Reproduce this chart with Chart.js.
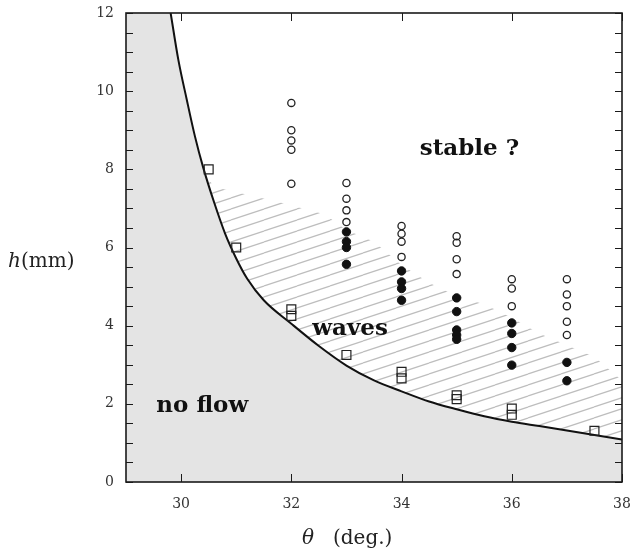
<!DOCTYPE html>
<html>
<head>
<meta charset="utf-8">
<script src="https://cdn.jsdelivr.net/npm/chart.js@4.4.1/dist/chart.umd.min.js"></script>
<style>
html, body { margin: 0; padding: 0; background: #fff; }
</style>
</head>
<body>
<canvas id="chart" width="631" height="552"></canvas>
<script>
// axis ticks
const xTicks = [30, 32, 34, 36, 38]
const yTickLabels = [0, 2, 4, 6, 8, 10, 12]

// threshold curve h(theta)
const curveTheta = [29.81, 29.95, 30.1, 30.25, 30.4, 30.6, 30.8, 31.0, 31.2, 31.5, 32.0, 32.5, 33.0, 33.5, 34.0, 34.5, 35.0, 35.5, 36.0, 36.5, 37.0, 37.5, 38.0]
const curveH = [12.0, 10.8, 9.8, 8.85, 8.05, 7.15, 6.35, 5.72, 5.2, 4.65, 4.05, 3.48, 2.98, 2.6, 2.32, 2.06, 1.86, 1.68, 1.54, 1.43, 1.32, 1.2, 1.09]

// upper edge of the hatched "waves" zone
const hatchTheta = [30.45, 30.6, 31.8, 32.6, 33.0, 33.5, 34.0, 34.5, 35.0, 35.5, 36.0, 36.5, 37.0, 37.5, 38.0]
const hatchH = [7.85, 7.55, 7.15, 6.85, 6.45, 6.15, 5.55, 5.1, 4.75, 4.55, 4.2, 3.8, 3.5, 3.2, 2.6]

// squares (onset)
const squareTheta = [30.5, 31, 32, 32, 33, 34, 34, 35, 35, 36, 36, 37.5]
const squareH = [8.0, 6.0, 4.42, 4.25, 3.25, 2.82, 2.65, 2.22, 2.12, 1.88, 1.72, 1.31]

// open circles
const openTheta = [32, 32, 32, 32, 32, 33, 33, 33, 33, 34, 34, 34, 34, 35, 35, 35, 35, 36, 36, 36, 37, 37, 37, 37, 37]
const openH = [9.7, 9.0, 8.74, 8.5, 7.63, 7.65, 7.25, 6.95, 6.65, 6.55, 6.35, 6.15, 5.76, 6.29, 6.12, 5.7, 5.32, 5.19, 4.95, 4.5, 5.19, 4.8, 4.5, 4.1, 3.76]

// filled circles
const fullTheta = [33, 33, 33, 33, 34, 34, 34, 34, 35, 35, 35, 35, 35, 36, 36, 36, 36, 37, 37]
const fullH = [6.4, 6.15, 6.0, 5.57, 5.4, 5.12, 4.95, 4.65, 4.71, 4.36, 3.89, 3.76, 3.65, 4.07, 3.8, 3.44, 2.99, 3.06, 2.59]

const notes = [
    {text: 'stable ?', x: 34.33, y: 8.36},
    {text: 'waves', x: 32.38, y: 3.76},
    {text: 'no flow', x: 29.55, y: 1.79},
]

const pts = (xs, ys) => xs.map((v, i) => ({x: v, y: ys[i]}))

// grey "no flow" zone: left edge then down along the curve
const noFlow = [{x: 29, y: 12}].concat(pts(curveTheta, curveH))

// hatched zone: top edge, right edge, back along the curve
const waveZone = pts(hatchTheta, hatchH)
for (let i = curveTheta.length - 1; i >= 0; i--) {
    if (curveTheta[i] >= hatchTheta[0]) waveZone.push({x: curveTheta[i], y: curveH[i]})
}

const canvas = document.getElementById('chart')
const ctx = canvas.getContext('2d')

// diagonal hatch tile
const tile = document.createElement('canvas')
tile.width = 33
tile.height = 11
const tctx = tile.getContext('2d')
tctx.strokeStyle = '#bdbdbd'
tctx.lineWidth = 1.2
for (let k = -1; k <= 1; k++) {
    tctx.beginPath()
    tctx.moveTo(0, 11 + k * 11)
    tctx.lineTo(33, k * 11)
    tctx.stroke()
}
const hatch = ctx.createPattern(tile, 'repeat')

const serif = '"DejaVu Serif", serif'

const framePlugin = {
    id: 'frame',
    afterDatasetsDraw(chart) {
        const {ctx, chartArea: a, scales: {x, y}} = chart
        ctx.save()
        ctx.strokeStyle = '#1a1a1a'
        ctx.lineWidth = 1
        ctx.beginPath()
        xTicks.forEach(v => {
            const px = Math.round(x.getPixelForValue(v)) + 0.5
            ctx.moveTo(px, a.bottom); ctx.lineTo(px, a.bottom - 8)
            ctx.moveTo(px, a.top); ctx.lineTo(px, a.top + 8)
        })
        y.ticks.forEach(t => {
            const py = Math.round(y.getPixelForValue(t.value)) + 0.5
            ctx.moveTo(a.left, py); ctx.lineTo(a.left + 7, py)
            ctx.moveTo(a.right, py); ctx.lineTo(a.right - 7, py)
        })
        ctx.stroke()
        ctx.lineWidth = 1.6
        ctx.strokeRect(a.left, a.top, a.width, a.height)

        ctx.fillStyle = '#111'
        ctx.textBaseline = 'alphabetic'
        ctx.font = 'bold 23px ' + serif
        notes.forEach(n => ctx.fillText(n.text, x.getPixelForValue(n.x), y.getPixelForValue(n.y)))

        // axis titles
        ctx.fillStyle = '#222'
        ctx.font = 'italic 20px ' + serif
        ctx.fillText('h', 8, 267)
        ctx.fillText('θ', 302, 544)
        ctx.font = '20px ' + serif
        ctx.fillText('(mm)', 21, 267)
        ctx.fillText('(deg.)', 333, 544)
        ctx.restore()
    }
}

new Chart(ctx, {
    type: 'scatter',
    data: {
        datasets: [
            {
                type: 'line',
                data: noFlow,
                borderWidth: 0,
                pointRadius: 0,
                fill: 'origin',
                backgroundColor: '#e4e4e4',
                order: 6,
            },
            {
                type: 'line',
                data: waveZone,
                borderWidth: 0,
                pointRadius: 0,
                fill: 'shape',
                backgroundColor: hatch,
                order: 5,
            },
            {
                type: 'line',
                data: pts(curveTheta, curveH),
                borderColor: '#111',
                borderWidth: 2,
                pointRadius: 0,
                fill: false,
                cubicInterpolationMode: 'monotone',
                order: 4,
            },
            {
                data: pts(squareTheta, squareH),
                pointStyle: 'rect',
                pointRadius: 6.3,
                borderColor: '#222',
                borderWidth: 1.2,
                backgroundColor: 'rgba(0,0,0,0)',
                order: 3,
            },
            {
                data: pts(openTheta, openH),
                pointRadius: 3.6,
                borderColor: '#222',
                borderWidth: 1.3,
                backgroundColor: 'rgba(255,255,255,0)',
                order: 2,
            },
            {
                data: pts(fullTheta, fullH),
                pointRadius: 4.2,
                borderColor: '#111',
                borderWidth: 1,
                backgroundColor: '#111',
                order: 1,
            },
        ]
    },
    options: {
        responsive: false,
        animation: false,
        events: [],
        layout: {padding: {top: 13, right: 9, left: 0, bottom: 0}},
        plugins: {legend: {display: false}, tooltip: {enabled: false}},
        scales: {
            x: {
                type: 'linear',
                min: 29,
                max: 38,
                afterBuildTicks: s => { s.ticks = xTicks.map(v => ({value: v})) },
                afterFit: s => { s.height = 70; s.paddingLeft = 0; s.paddingRight = 0 },
                grid: {display: false, drawTicks: false},
                border: {display: false},
                ticks: {padding: 14, color: '#333', font: {family: serif, size: 14}},
            },
            y: {
                min: 0,
                max: 12,
                afterFit: s => { s.width = 126; s.paddingTop = 0; s.paddingBottom = 0 },
                grid: {display: false, drawTicks: false},
                border: {display: false},
                ticks: {
                    stepSize: 0.5,
                    autoSkip: false,
                    padding: 12,
                    color: '#333',
                    font: {family: serif, size: 14},
                    callback: v => yTickLabels.includes(v) ? String(v) : '',
                },
            },
        },
    },
    plugins: [framePlugin],
})
</script>
</body>
</html>
